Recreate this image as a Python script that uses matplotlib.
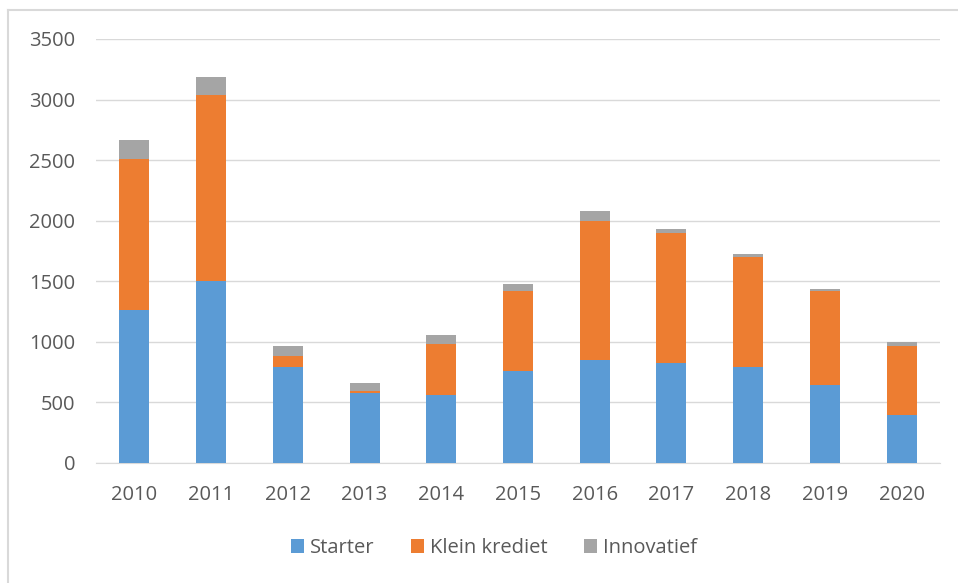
import matplotlib.pyplot as plt
import numpy as np
from matplotlib.lines import Line2D

years = ['2010', '2011', '2012', '2013', '2014', '2015', '2016', '2017', '2018', '2019', '2020']
starter = [1260, 1500, 795, 577, 563, 762, 847, 825, 795, 646, 393]
klein_krediet = [1250, 1535, 85, 20, 423, 660, 1153, 1073, 902, 776, 573]
innovatief = [155, 150, 85, 63, 74, 53, 77, 33, 31, 11, 30]

colors = ['#5b9bd5', '#ed7d31', '#a5a5a5']
text_color = '#595959'

plt.rcParams['font.family'] = ['Open Sans', 'DejaVu Sans']

fig = plt.figure(figsize=(9.58, 5.83), dpi=100)
ax = fig.add_axes([96 / 958, 1 - 463 / 583, (940 - 96) / 958, (463 - 39) / 583])

x = np.arange(len(years))
w = 0.39
ax.bar(x, starter, w, color=colors[0], label='Starter', zorder=3)
ax.bar(x, klein_krediet, w, bottom=starter, color=colors[1], label='Klein krediet', zorder=3)
bottom2 = np.array(starter) + np.array(klein_krediet)
ax.bar(x, innovatief, w, bottom=bottom2, color=colors[2], label='Innovatief', zorder=3)

ax.set_xlim(-0.5, len(years) - 0.5)
ax.set_ylim(0, 3500)
ax.set_yticks(range(0, 3501, 500))
ax.set_xticks(x)
ax.set_xticklabels(years)
ax.grid(axis='y', color='#d9d9d9', linewidth=1, zorder=0)
for s in ['top', 'right', 'left']:
    ax.spines[s].set_visible(False)
ax.spines['bottom'].set_color('#d9d9d9')
ax.tick_params(length=0, labelsize=14.5, colors=text_color)
ax.tick_params(axis='y', pad=15)
ax.tick_params(axis='x', pad=16)

leg = fig.legend(loc='center', bbox_to_anchor=(494 / 958, 1 - 548 / 583), ncol=3,
                 frameon=False, fontsize=14.5, handlelength=0.65, handleheight=0.65,
                 handletextpad=0.3, columnspacing=1.8)
for t in leg.get_texts():
    t.set_color(text_color)

# outer chart border (top and left visible)
fig.add_artist(Line2D([8 / 958, 1], [1 - 10 / 583, 1 - 10 / 583], color='#d9d9d9', linewidth=1.5))
fig.add_artist(Line2D([8 / 958, 8 / 958], [0, 1 - 10 / 583], color='#d9d9d9', linewidth=1.5))

fig.savefig('out.png', dpi=100)
